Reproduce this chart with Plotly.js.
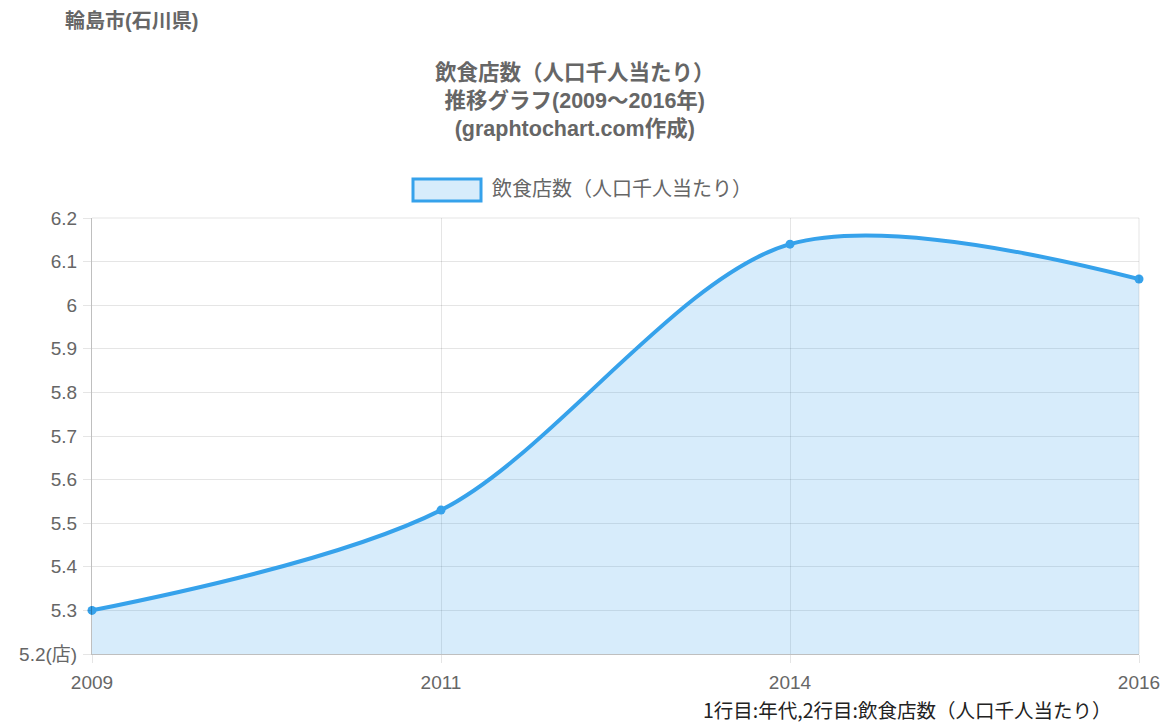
<!DOCTYPE html>
<html>
<head>
<meta charset="utf-8">
<script src="https://cdn.plot.ly/plotly-3.0.1.min.js"></script>
<style>html,body{margin:0;padding:0;background:#fff;}#chart{width:1161px;height:725px;}</style>
</head>
<body>
<div id="chart"></div>
<script>
const years = ["2009", "2011", "2014", "2016"];
const values = [5.30, 5.53, 6.14, 6.06];
const yTickVals = [5.2, 5.3, 5.4, 5.5, 5.6, 5.7, 5.8, 5.9, 6.0, 6.1, 6.2];
const yTickText = ["5.2(店)", "5.3", "5.4", "5.5", "5.6", "5.7", "5.8", "5.9", "6", "6.1", "6.2"];
const seriesName = "飲食店数（人口千人当たり）";
const titleLines = ["飲食店数（人口千人当たり）", "推移グラフ(2009～2016年)", "(graphtochart.com作成)"];
const cityLabel = "輪島市(石川県)";
const footNote = "1行目:年代,2行目:飲食店数（人口千人当たり）";

const FONT = '"Liberation Sans", Arial, "Noto Sans CJK JP", sans-serif';
const GREY = '#666666';
const BLUE = 'rgb(54,162,235)';
const FILL = 'rgba(54,162,235,0.2)';

const trace = {
  x: years, y: values, type: 'scatter', mode: 'lines+markers',
  name: seriesName,
  line: {color: BLUE, width: 4, shape: 'spline', smoothing: 0.9},
  marker: {color: BLUE, size: 9},
  fill: 'tozeroy', fillcolor: FILL,
  cliponaxis: false, hoverinfo: 'x+y'
};

const layout = {
  width: 1161, height: 725,
  margin: {l: 92, r: 22, t: 218, b: 71},
  paper_bgcolor: '#fff', plot_bgcolor: '#fff',
  font: {family: FONT, color: GREY, size: 19},
  showlegend: false,
  xaxis: {
    type: 'category', range: [0, 3],
    showgrid: true, gridcolor: 'rgba(0,0,0,0.1)', gridwidth: 1,
    showline: true, linecolor: 'rgba(0,0,0,0.25)', linewidth: 1,
    ticks: 'outside', ticklen: 8, tickcolor: 'rgba(0,0,0,0.1)',
    ticklabelstandoff: 3,
    tickfont: {family: FONT, color: GREY, size: 19},
    zeroline: false, mirror: false, fixedrange: true
  },
  yaxis: {
    range: [5.2, 6.2],
    tickvals: yTickVals, ticktext: yTickText,
    showgrid: true, gridcolor: 'rgba(0,0,0,0.1)', gridwidth: 1,
    showline: true, linecolor: 'rgba(0,0,0,0.25)', linewidth: 1,
    ticks: 'outside', ticklen: 8, tickcolor: 'rgba(0,0,0,0.1)',
    ticklabelstandoff: 2,
    tickfont: {family: FONT, color: GREY, size: 19},
    zeroline: false, fixedrange: true
  },
  shapes: [
    {type: 'line', xref: 'paper', yref: 'paper', x0: 1, x1: 1, y0: 0, y1: 1, line: {color: 'rgba(0,0,0,0.1)', width: 1}},
    {type: 'line', xref: 'paper', yref: 'paper', x0: 0, x1: 1, y0: 1, y1: 1, line: {color: 'rgba(0,0,0,0.1)', width: 1}},
    {type: 'rect', xref: 'paper', yref: 'paper',
     x0: (413 - 92) / 1047, x1: (481 - 92) / 1047,
     y0: (654 - 201) / 436, y1: (654 - 179) / 436,
     line: {color: BLUE, width: 3}, fillcolor: FILL}
  ],
  annotations: [
    {text: '<b>' + cityLabel + '</b>', xref: 'paper', yref: 'paper', x: -29 / 1047, y: (654 - 21) / 436,
     xanchor: 'left', yanchor: 'middle', showarrow: false, font: {family: FONT, size: 20, color: GREY}},
    {text: '<b>' + titleLines.join('<br>') + '</b>', xref: 'paper', yref: 'paper', x: (575 - 92) / 1047, y: (654 - 101) / 436,
     xanchor: 'center', yanchor: 'middle', showarrow: false, align: 'center',
     font: {family: FONT, size: 21.5, color: GREY}},
    {text: seriesName, xref: 'paper', yref: 'paper', x: (490 - 92) / 1047, y: (654 - 189) / 436,
     xanchor: 'left', yanchor: 'middle', showarrow: false, font: {family: FONT, size: 20, color: GREY}},
    {text: footNote, xref: 'paper', yref: 'paper', x: (1113 - 92) / 1047, y: (654 - 709) / 436,
     xanchor: 'right', yanchor: 'middle', showarrow: false, font: {family: '"Noto Sans CJK JP", sans-serif', size: 19.5, color: '#222222'}}
  ]
};

Plotly.newPlot('chart', [trace], layout, {displayModeBar: false, staticPlot: true});
</script>
</body>
</html>
